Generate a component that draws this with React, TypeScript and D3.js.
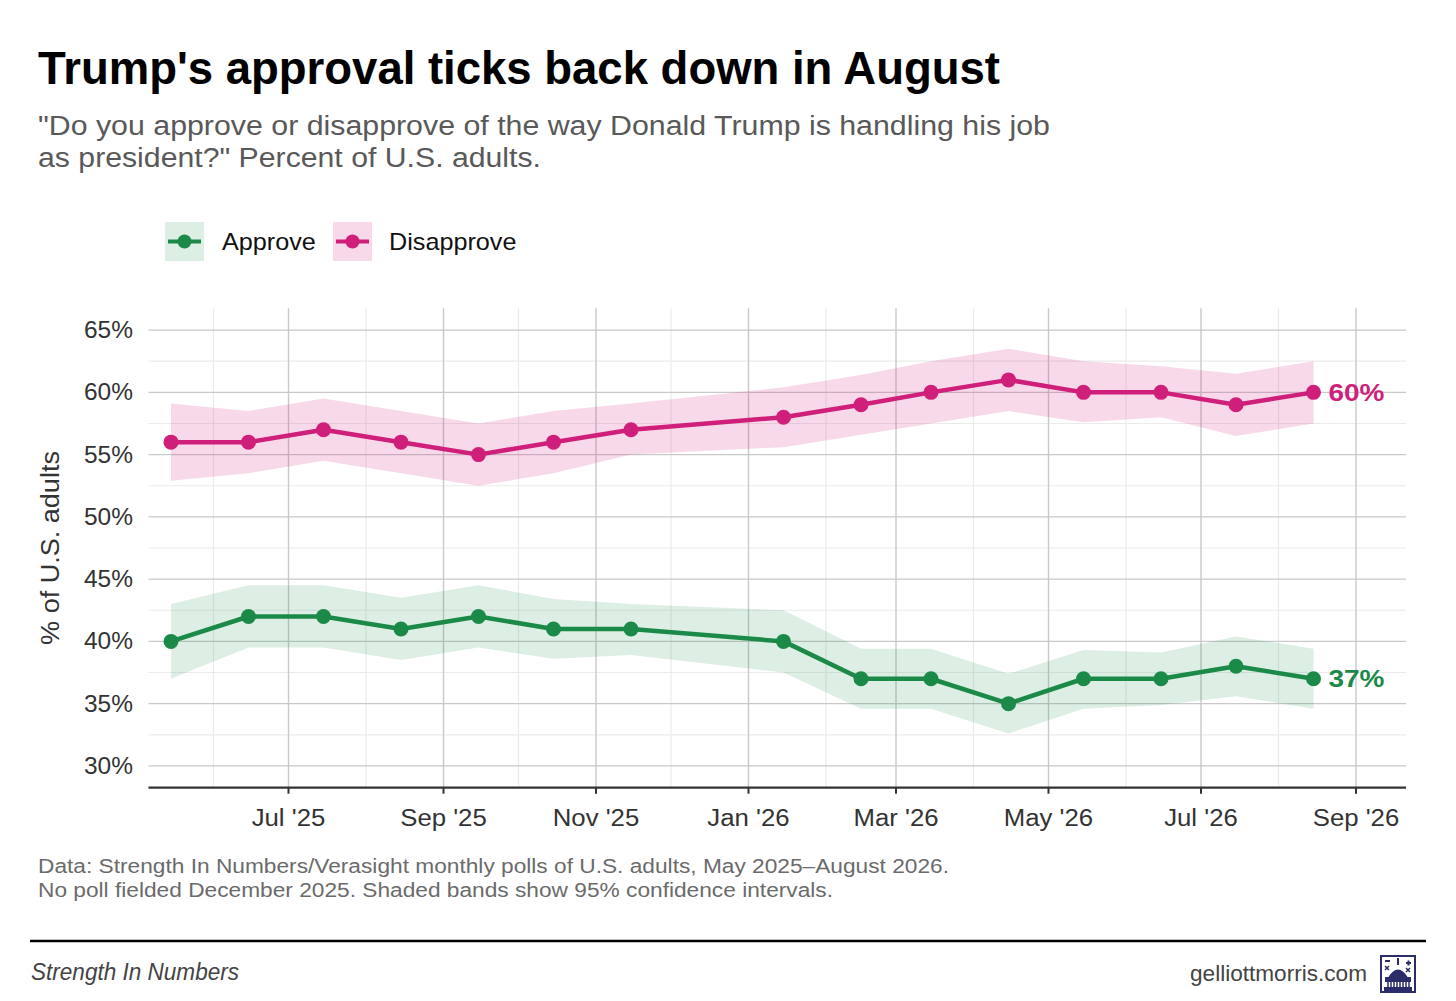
import React from "react";
import * as d3 from "d3";

// ---- data ----
const pollDates = [
  "2025-05-15", "2025-06-15", "2025-07-15", "2025-08-15", "2025-09-15",
  "2025-10-15", "2025-11-15", "2026-01-15", "2026-02-15", "2026-03-15",
  "2026-04-15", "2026-05-15", "2026-06-15", "2026-07-15", "2026-08-15",
];
const approve = [40, 42, 42, 41, 42, 41, 41, 40, 37, 37, 35, 37, 37, 38, 37];
const approveLow = [37.0, 39.5, 39.5, 38.5, 39.5, 38.6, 38.9, 37.5, 34.6, 34.6, 32.6, 34.6, 34.9, 35.6, 34.6];
const approveHigh = [43.0, 44.5, 44.5, 43.5, 44.5, 43.4, 43.0, 42.5, 39.4, 39.4, 37.4, 39.3, 39.1, 40.4, 39.4];
const disapprove = [56, 56, 57, 56, 55, 56, 57, 58, 59, 60, 61, 60, 60, 59, 60];
const disapproveLow = [52.9, 53.5, 54.5, 53.5, 52.5, 53.5, 55.0, 55.6, 56.6, 57.5, 58.5, 57.6, 58.0, 56.5, 57.5];
const disapproveHigh = [59.1, 58.5, 59.5, 58.5, 57.5, 58.5, 59.1, 60.4, 61.4, 62.5, 63.5, 62.5, 62.1, 61.5, 62.5];
const yTicks = [30, 35, 40, 45, 50, 55, 60, 65];
const yMinorTicks = [32.5, 37.5, 42.5, 47.5, 52.5, 57.5, 62.5];
const xMajorTicks = ["2025-07-01", "2025-09-01", "2025-11-01", "2026-01-01", "2026-03-01", "2026-05-01", "2026-07-01", "2026-09-01"];
const xMinorTicks = ["2025-06-01", "2025-08-01", "2025-10-01", "2025-12-01", "2026-02-01", "2026-04-01", "2026-06-01", "2026-08-01"];
const seriesNames = ["Approve", "Disapprove"];

const GREEN = "#1b8a48";
const PINK = "#cf1f7b";
const GREEN_BAND = "rgba(27,138,72,0.15)";
const PINK_BAND = "rgba(207,31,123,0.17)";

const W = 1456;
const H = 1001;
const FAMILY = "'Liberation Sans'";
const FONT = "'Liberation Sans', Arial, Helvetica, sans-serif";

const parse = (s: string) => new Date(s + "T00:00:00Z");
const fmtMonth = d3.utcFormat("%b '%y");

let ctx: CanvasRenderingContext2D | null = null;
function measure(text: string, size: number, weight = "normal", style = "normal") {
  if (!ctx && typeof document !== "undefined") ctx = document.createElement("canvas").getContext("2d");
  if (!ctx) return text.length * size * 0.5;
  ctx.font = `${style} ${weight} ${size}px ${FAMILY}`;
  return ctx.measureText(text).width;
}

function T(props: {
  x: number; y: number; size: number; fill: string; children: string;
  weight?: string; italic?: boolean; factor?: number; width?: number; anchor?: "start" | "middle" | "end"; transform?: string;
}) {
  const { x, y, size, fill, children, weight = "normal", italic = false, factor = 1, width, anchor = "start", transform } = props;
  const w = width ?? measure(children, size, weight, italic ? "italic" : "normal") * factor;
  return (
    <text
      x={x}
      y={y}
      fontSize={size}
      fontWeight={weight}
      fontStyle={italic ? "italic" : "normal"}
      fill={fill}
      textAnchor={anchor}
      textLength={w}
      lengthAdjust="spacingAndGlyphs"
      transform={transform}
    >
      {children}
    </text>
  );
}

export default function App() {
  const left = 148.5, right = 1406, top = 308.3, bottom = 787.7;
  const x = d3.scaleUtc().domain([parse("2025-05-06"), parse("2026-09-21")]).range([left, right]);
  const y = d3.scaleLinear().domain([28.25, 66.75]).range([bottom, top]);

  const dates = pollDates.map(parse);
  const mkSeries = (v: number[], lo: number[], hi: number[]) =>
    dates.map((d, i) => ({ d, v: v[i], lo: lo[i], hi: hi[i] }));
  const aData = mkSeries(approve, approveLow, approveHigh);
  const dData = mkSeries(disapprove, disapproveLow, disapproveHigh);

  const line = d3.line<any>().x((p) => x(p.d)).y((p) => y(p.v));
  const area = d3.area<any>().x((p) => x(p.d)).y0((p) => y(p.lo)).y1((p) => y(p.hi));

  const series = [
    { name: seriesNames[1], data: dData, color: PINK, band: PINK_BAND },
    { name: seriesNames[0], data: aData, color: GREEN, band: GREEN_BAND },
  ];

  return (
    <svg width={W} height={H} style={{ position: "absolute", left: 0, top: 0, background: "#fff" }} fontFamily={FONT}>
      <rect x={0} y={0} width={W} height={H} fill="#fff" />
      {/* Title */}
      <T x={38} y={84} size={46} weight="bold" fill="#000" width={962}>
        Trump's approval ticks back down in August
      </T>
      <T x={38} y={135} size={27} fill="#595959" width={1012}>
        "Do you approve or disapprove of the way Donald Trump is handling his job
      </T>
      <T x={38} y={167} size={27} fill="#595959" width={503}>
        as president?" Percent of U.S. adults.
      </T>

      {/* Legend */}
      {[
        { name: seriesNames[0], color: GREEN, band: GREEN_BAND, bx: 165, tx: 222 },
        { name: seriesNames[1], color: PINK, band: PINK_BAND, bx: 333, tx: 389 },
      ].map((l) => (
        <g key={l.name}>
          <rect x={l.bx} y={222} width={39} height={39} fill={l.band} />
          <line x1={l.bx + 3} x2={l.bx + 36} y1={241.5} y2={241.5} stroke={l.color} strokeWidth={4} />
          <circle cx={l.bx + 19.5} cy={241.5} r={7} fill={l.color} />
          <T x={l.tx} y={250} size={24} fill="#111" factor={1.05}>{l.name}</T>
        </g>
      ))}

      {/* Grid */}
      {yMinorTicks.map((t) => (
        <line key={"ym" + t} x1={left} x2={right} y1={y(t)} y2={y(t)} stroke="#ebebeb" strokeWidth={1.2} />
      ))}
      {xMinorTicks.map((t) => (
        <line key={"xm" + t} x1={x(parse(t))} x2={x(parse(t))} y1={top} y2={bottom} stroke="#ebebeb" strokeWidth={1.2} />
      ))}
      {yTicks.map((t) => (
        <line key={"y" + t} x1={left} x2={right} y1={y(t)} y2={y(t)} stroke="#c9c9c9" strokeWidth={1.4} />
      ))}
      {xMajorTicks.map((t) => (
        <line key={"x" + t} x1={x(parse(t))} x2={x(parse(t))} y1={top} y2={bottom} stroke="#c9c9c9" strokeWidth={1.4} />
      ))}

      {/* Bands */}
      {series.map((s) => (
        <path key={"band" + s.name} d={area(s.data) || ""} fill={s.band} />
      ))}
      {/* Lines + points */}
      {series.map((s) => {
        const last = s.data[s.data.length - 1];
        return (
          <g key={"l" + s.name}>
            <path d={line(s.data) || ""} fill="none" stroke={s.color} strokeWidth={4.5} strokeLinejoin="round" />
            {s.data.map((p, i) => (
              <circle key={i} cx={x(p.d)} cy={y(p.v)} r={7.5} fill={s.color} />
            ))}
            <T x={x(last.d) + 15} y={y(last.v) + 8.3} size={23} weight="bold" fill={s.color} width={56}>
              {`${last.v}%`}
            </T>
          </g>
        );
      })}

      {/* Axes */}
      <line x1={left} x2={right} y1={bottom} y2={bottom} stroke="#333" strokeWidth={2.2} />
      {xMajorTicks.map((t) => (
        <g key={"xt" + t}>
          <line x1={x(parse(t))} x2={x(parse(t))} y1={bottom} y2={bottom + 6} stroke="#333" strokeWidth={2} />
          <T x={x(parse(t))} y={826} size={23} fill="#333" anchor="middle" factor={1.12}>
            {fmtMonth(parse(t))}
          </T>
        </g>
      ))}
      {yTicks.map((t) => (
        <T key={"yt" + t} x={133} y={y(t) + 8} size={23} fill="#333" anchor="end" factor={1.065}>
          {`${t}%`}
        </T>
      ))}
      <T x={0} y={0} transform={`translate(59, ${(top + bottom) / 2}) rotate(-90)`} size={26} fill="#333" anchor="middle" factor={1.04}>
        % of U.S. adults
      </T>

      {/* Caption */}
      <T x={38} y={873} size={20} fill="#6b6b6b" width={911}>
        Data: Strength In Numbers/Verasight monthly polls of U.S. adults, May 2025–August 2026.
      </T>
      <T x={38} y={897} size={20} fill="#6b6b6b" width={795}>
        No poll fielded December 2025. Shaded bands show 95% confidence intervals.
      </T>

      {/* Footer */}
      <line x1={30} x2={1426} y1={941} y2={941} stroke="#000" strokeWidth={2.5} />
      <T x={31} y={980} size={23} italic fill="#444" width={208}>
        Strength In Numbers
      </T>
      <T x={1367} y={981} size={22.6} fill="#444" anchor="end" width={177}>gelliottmorris.com</T>
      <g transform="translate(1380,955)" fill="none" stroke="#2b2d6b" strokeWidth={2}>
        <rect x={1} y={1} width={34} height={36} />
        <line x1={5} x2={10} y1={6} y2={6} />
        <line x1={26} x2={31} y1={8} y2={8} />
        <line x1={28.5} x2={28.5} y1={5.5} y2={10.5} />
        <path d="M5 11 L9 15 M9 11 L5 15" strokeWidth={1.5} />
        <path d="M26 13 L30 17 M30 13 L26 17" strokeWidth={1.5} />
        <path d="M18 3 L18 10" strokeWidth={2} />
        <path d="M9 23 Q18 8 27 23 Z" fill="#2b2d6b" />
        <rect x={6} y={23} width={24} height={3} fill="#2b2d6b" />
        <path d="M8 27 V33 M11 27 V33 M14 27 V33 M17 27 V33 M20 27 V33 M23 27 V33 M26 27 V33 M29 27 V33" strokeWidth={1.5} />
        <rect x={5} y={33} width={26} height={3} fill="#2b2d6b" />
      </g>
    </svg>
  );
}
